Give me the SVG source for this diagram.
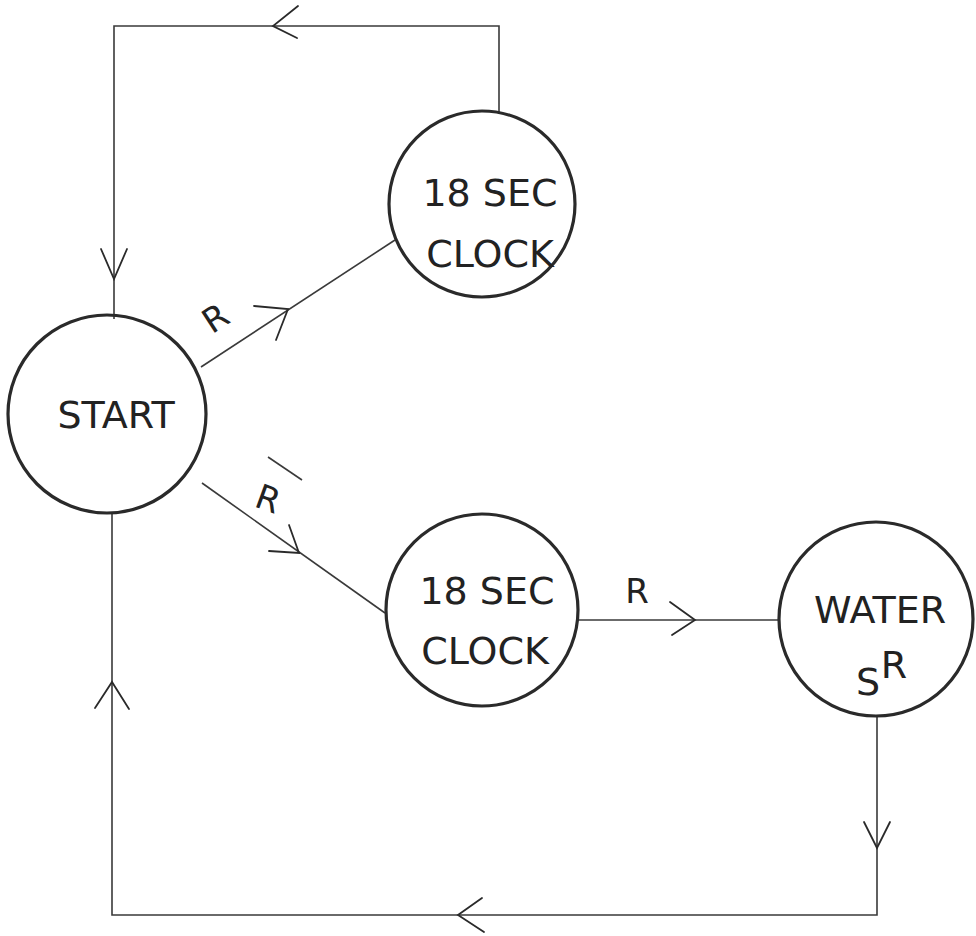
<svg xmlns="http://www.w3.org/2000/svg" width="976" height="936" viewBox="0 0 976 936">
<style>
.node{fill:none;stroke:#2a2a2a;stroke-width:3.2}
.edge{fill:none;stroke:#3a3a3a;stroke-width:1.6}
.head{fill:none;stroke:#2a2a2a;stroke-width:1.8;stroke-linecap:round}
.lbl{font-family:"DejaVu Sans","Liberation Sans",sans-serif;font-size:38px;fill:#222;text-anchor:middle}
.elbl{font-family:"DejaVu Sans","Liberation Sans",sans-serif;font-size:34px;fill:#222;text-anchor:middle}
</style>
<rect width="976" height="936" fill="#fff"/>
<g id="connectors">
<polyline class="edge" points="499,112 499,26 114,26 114,319"/>
<polyline class="head" points="298,6 273,26 297,38"/>
<polyline class="head" points="101,249 114,279 127,249"/>
<line class="edge" x1="201" y1="367" x2="395" y2="240"/>
<polyline class="head" points="254,306 288,309 276,340"/>
<text class="elbl" transform="translate(222,328) rotate(-33)">R</text>
<line class="edge" x1="202" y1="483" x2="385" y2="613"/>
<polyline class="head" points="289,525 299,553 269,551"/>
<text class="elbl" transform="translate(264,510) rotate(20)">R</text>
<line class="edge" x1="268" y1="457" x2="302" y2="480"/>
<line class="edge" x1="578" y1="620" x2="779" y2="620"/>
<polyline class="head" points="670,602 695,620 672,635"/>
<text class="elbl" x="637" y="603">R</text>
<polyline class="edge" points="877,716 877,915 112,915 112,512"/>
<polyline class="head" points="864,822 877,848 890,822"/>
<polyline class="head" points="482,898 458,915 484,932"/>
<polyline class="head" points="95,708 112,682 129,709"/>
</g>
<g id="start">
<circle class="node" cx="107" cy="414" r="99"/>
<text class="lbl" x="116" y="428">START</text>
</g>
<g id="clock1">
<circle class="node" cx="482" cy="204" r="93"/>
<text class="lbl" x="490" y="206">18 SEC</text>
<text class="lbl" x="490" y="267">CLOCK</text>
</g>
<g id="clock2">
<circle class="node" cx="482" cy="610" r="96"/>
<text class="lbl" x="487" y="604">18 SEC</text>
<text class="lbl" x="485" y="664">CLOCK</text>
</g>
<g id="water">
<circle class="node" cx="876" cy="619" r="97"/>
<text class="lbl" x="880" y="623">WATER</text>
<text class="lbl" x="868" y="695" font-size="44">S</text>
<text class="lbl" x="894" y="678" font-size="30">R</text>
</g>
</svg>
